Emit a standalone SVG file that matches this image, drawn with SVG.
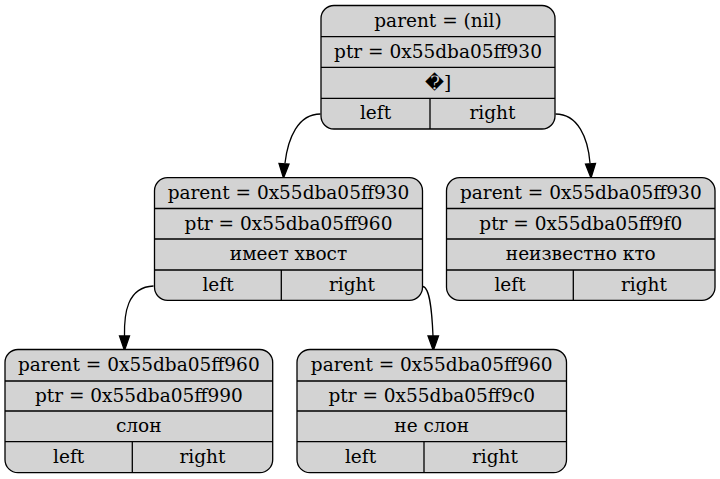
<svg xmlns="http://www.w3.org/2000/svg" width="720" height="479" viewBox="0 0 720 479">
<style>
.box{fill:#d3d3d3;stroke:#000;stroke-width:1.3}
.sep{stroke:#000;stroke-width:1.3;fill:none}
text{font-family:"DejaVu Serif",serif;font-size:18.5px;fill:#000;text-anchor:middle}
.edge{fill:none;stroke:#000;stroke-width:1.3}
.ah{fill:#000;stroke:#000;stroke-width:1.3}
</style>
<rect width="720" height="479" fill="#fff"/>
<g id="edges">
<path class="edge" d="M320.5,114 C298,114 288,138 285,163"/>
<polygon class="ah" points="283.5,178 279,163.5 289,164"/>
<path class="edge" d="M555.5,114 C578,114 588,138 590,163"/>
<polygon class="ah" points="591,178 585.5,164 595.5,163.5"/>
<path class="edge" d="M153.5,286 C127,287 124,314 124.5,336"/>
<polygon class="ah" points="124.5,350.5 119.5,336 129.5,336"/>
<path class="edge" d="M423,286.5 C430,288 432,312 433,336"/>
<polygon class="ah" points="433.3,350.5 428,336 438.5,336"/>
</g>
<g id="node_root">
<rect class="box" x="321" y="5.5" width="234" height="123.5" rx="13"/>
<path class="sep" d="M321,36.7H555M321,67.3H555M321,98.3H555M430,98.3V129"/>
<text x="438" y="26.5">parent = (nil)</text>
<text x="438" y="57.5">ptr = 0x55dba05ff930</text>
<text x="438" y="88.5">�]</text>
<text x="375.5" y="119">left</text>
<text x="492.5" y="119">right</text>
</g>
<g id="node_960">
<rect class="box" x="154.5" y="177.7" width="268" height="122.6" rx="13"/>
<path class="sep" d="M154.5,208.5H422.5M154.5,239H422.5M154.5,270H422.5M281.3,270V300.3"/>
<text x="288.5" y="198.5">parent = 0x55dba05ff930</text>
<text x="288.5" y="229.5">ptr = 0x55dba05ff960</text>
<text x="288.5" y="260">имеет хвост</text>
<text x="218" y="290.5">left</text>
<text x="352" y="290.5">right</text>
</g>
<g id="node_9f0">
<rect class="box" x="446.5" y="177.7" width="268.5" height="122.6" rx="13"/>
<path class="sep" d="M446.5,208.5H715M446.5,239H715M446.5,270H715M573.3,270V300.3"/>
<text x="580.8" y="198.5">parent = 0x55dba05ff930</text>
<text x="580.8" y="229.5">ptr = 0x55dba05ff9f0</text>
<text x="580.8" y="260">неизвестно кто</text>
<text x="510" y="290.5">left</text>
<text x="644" y="290.5">right</text>
</g>
<g id="node_990">
<rect class="box" x="5" y="349.5" width="267.7" height="123.2" rx="13"/>
<path class="sep" d="M5,381H272.7M5,411H272.7M5,441.7H272.7M132.3,441.7V472.7"/>
<text x="138.8" y="370.5">parent = 0x55dba05ff960</text>
<text x="138.8" y="401.5">ptr = 0x55dba05ff990</text>
<text x="138.8" y="432">слон</text>
<text x="68.7" y="462.5">left</text>
<text x="202.5" y="462.5">right</text>
</g>
<g id="node_9c0">
<rect class="box" x="297" y="349.5" width="269.5" height="123.2" rx="13"/>
<path class="sep" d="M297,381H566.5M297,411H566.5M297,441.7H566.5M424,441.7V472.7"/>
<text x="431.7" y="370.5">parent = 0x55dba05ff960</text>
<text x="431.7" y="401.5">ptr = 0x55dba05ff9c0</text>
<text x="431.7" y="432">не слон</text>
<text x="360.5" y="462.5">left</text>
<text x="495" y="462.5">right</text>
</g>
</svg>
